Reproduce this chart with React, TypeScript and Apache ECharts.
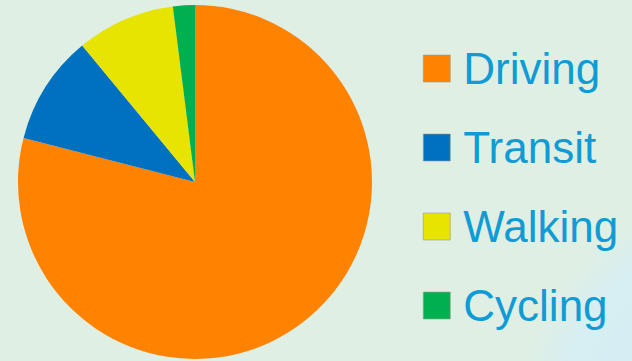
import React, { useEffect, useRef } from "react";
import * as echarts from "echarts";

const categories = ["Driving", "Transit", "Walking", "Cycling"];
const shares = [79, 10, 9, 2];
const colors = ["#ff8200", "#0070c0", "#e6e400", "#00b050"];

export default function App() {
  const ref = useRef<HTMLDivElement>(null);
  useEffect(() => {
    if (!ref.current) return;
    const chart = echarts.init(ref.current, null, { renderer: "svg" });
    chart.setOption({
      animation: false,
      backgroundColor: "#dfefe3",
      graphic: [
        {
          type: "circle",
          z: -10,
          silent: true,
          shape: { cx: 760, cy: 430, r: 250 },
          style: {
            fill: {
              type: "radial",
              x: 0.5,
              y: 0.5,
              r: 0.5,
              colorStops: [
                { offset: 0, color: "#d2ecf7" },
                { offset: 0.82, color: "#d7eef2" },
                { offset: 1, color: "rgba(217,238,238,0)" },
              ],
            },
          },
        },
      ],
      legend: {
        orient: "vertical",
        left: 423,
        top: 42,
        padding: 0,
        itemWidth: 27,
        itemHeight: 27,
        itemGap: 26,
        icon: "rect",
        data: categories,
        itemStyle: { borderColor: "#9a9a8a", borderWidth: 0.6 },
        textStyle: {
          fontFamily: "'Liberation Sans', Arial, sans-serif",
          fontSize: 44,
          lineHeight: 50,
          color: "#0e9bd6",
          padding: [0, 0, 3, 8],
        },
      },
      series: [
        {
          type: "pie",
          center: [195, 182],
          radius: 177,
          startAngle: 90,
          clockwise: true,
          label: { show: false },
          labelLine: { show: false },
          emphasis: { disabled: true },
          itemStyle: { borderWidth: 0 },
          data: categories.map((name, i) => ({
            name,
            value: shares[i],
            itemStyle: { color: colors[i] },
          })),
        },
      ],
    });
    return () => chart.dispose();
  }, []);
  return (
    <div
      ref={ref}
      style={{ position: "fixed", left: 0, top: 0, width: 632, height: 361 }}
    />
  );
}
